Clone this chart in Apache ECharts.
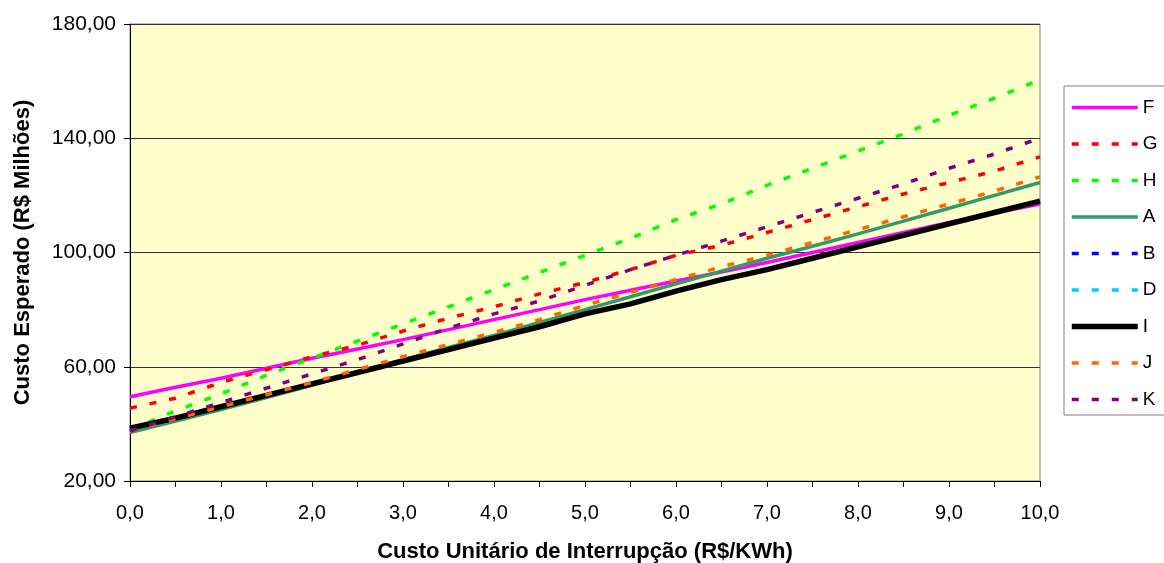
<!DOCTYPE html>
<html>
<head>
<meta charset="utf-8">
<script src="https://cdn.jsdelivr.net/npm/echarts@6/dist/echarts.min.js"></script>
<style>
html,body{margin:0;padding:0;background:#fff;}
#chart{width:1164px;height:563px;}
</style>
</head>
<body>
<div id="chart"></div>
<script>
// Categories: Custo Unitário de Interrupção (R$/KWh)
const categories = ['0,0','0,5','1,0','1,5','2,0','2,5','3,0','3,5','4,0','4,5','5,0','5,5','6,0','6,5','7,0','7,5','8,0','8,5','9,0','9,5','10,0'];

// Series values (R$ Milhões)
const F = [49.5, 52.8, 56.0, 59.5, 63.0, 66.2, 69.5, 73.0, 76.5, 80.0, 83.5, 86.8, 90.0, 93.2, 96.5, 100.0, 103.5, 107.0, 110.5, 113.8, 117.0];
const G = [45.5, 49.0, 54.5, 59.0, 63.5, 67.5, 72.5, 77.0, 81.0, 85.5, 89.5, 94.0, 99.0, 102.5, 107.0, 111.5, 116.0, 120.5, 124.5, 128.5, 133.5];
const H = [38.0, 44.5, 50.5, 57.0, 63.0, 69.0, 75.0, 81.0, 87.0, 93.0, 99.0, 105.0, 111.5, 117.0, 123.5, 129.5, 135.5, 141.5, 148.0, 154.0, 160.5];
const A = [37.0, 41.0, 45.0, 49.2, 53.5, 58.0, 62.5, 66.8, 71.0, 75.5, 80.0, 84.5, 89.0, 93.5, 98.0, 102.2, 106.5, 111.0, 115.5, 120.0, 124.5];
const B = [38.5, 42.0, 46.0, 50.0, 54.0, 58.0, 62.0, 66.0, 70.0, 74.0, 78.5, 82.0, 86.5, 90.5, 94.0, 98.0, 102.0, 106.0, 110.0, 114.0, 118.0];
const D = [38.5, 42.0, 46.0, 50.0, 54.0, 58.0, 62.0, 66.0, 70.0, 74.0, 78.5, 82.0, 86.5, 90.5, 94.0, 98.0, 102.0, 106.0, 110.0, 114.0, 118.0];
const I = [38.5, 42.0, 46.0, 50.0, 54.0, 58.0, 62.0, 66.0, 70.0, 74.0, 78.5, 82.0, 86.5, 90.5, 94.0, 98.0, 102.0, 106.0, 110.0, 114.0, 118.0];
const J = [37.5, 41.8, 46.0, 50.2, 54.5, 59.0, 63.5, 67.8, 72.0, 76.5, 81.5, 86.0, 90.5, 95.0, 99.0, 103.5, 108.0, 112.5, 117.0, 121.5, 126.5];
const K = [37.5, 42.5, 47.5, 52.5, 57.5, 62.5, 68.0, 73.5, 78.5, 83.0, 88.5, 94.0, 99.0, 104.0, 109.0, 114.0, 119.0, 124.0, 129.5, 134.5, 140.0];

// Y tick values
const yMin = 20, yMax = 180, yStep = 40;

const DASH = [7,13];
const seriesDefs = [
  {name:'F', data:F, color:'#FF00FF', width:3.5, type:'solid'},
  {name:'G', data:G, color:'#FF0000', width:3.5, type:DASH},
  {name:'H', data:H, color:'#00FF00', width:3.5, type:DASH},
  {name:'A', data:A, color:'#339966', width:3.5, type:'solid'},
  {name:'B', data:B, color:'#0000FF', width:3.5, type:DASH},
  {name:'D', data:D, color:'#00CCFF', width:3.5, type:DASH},
  {name:'I', data:I, color:'#000000', width:5.5, type:'solid'},
  {name:'J', data:J, color:'#FF6600', width:3.5, type:DASH},
  {name:'K', data:K, color:'#800080', width:3.5, type:DASH}
];

const font = "'Liberation Sans', Arial, sans-serif";

const chart = echarts.init(document.getElementById('chart'), null, {renderer:'canvas'});
chart.setOption({
  animation:false,
  backgroundColor:'#ffffff',
  grid:{left:130, right:124, top:24, bottom:82, outerBoundsMode:'none', containLabel:false,
    show:true, backgroundColor:'#FFFFCC', borderColor:'#808080', borderWidth:1},
  legend:{
    orient:'vertical', left:1064, top:86,
    padding:[12,8,6,5],
    itemWidth:66, itemHeight:14, itemGap:17.5,
    backgroundColor:'#ffffff', borderColor:'#808080', borderWidth:1, borderRadius:0,
    textStyle:{fontFamily:font, fontSize:19, color:'#000'},
    itemStyle:{opacity:0},
    lineStyle:{width:'inherit'},
    data: seriesDefs.map(s=>s.name)
  },
  xAxis:{
    type:'category', data:categories, boundaryGap:false,
    name:'Custo Unitário de Interrupção (R$/KWh)', nameLocation:'middle', nameGap:60,
    nameTextStyle:{fontFamily:font, fontSize:22, fontWeight:'bold', color:'#000'},
    axisLine:{lineStyle:{color:'#000', width:1}},
    axisTick:{show:true, interval:0, length:6, inside:false, lineStyle:{color:'#000'}},
    axisLabel:{interval:1, margin:22, fontFamily:font, fontSize:20, color:'#000'},
    splitLine:{show:false}
  },
  yAxis:{
    type:'value', min:yMin, max:yMax, interval:yStep,
    name:'Custo Esperado (R$ Milhões)', nameLocation:'middle', nameGap:96,
    nameTextStyle:{fontFamily:font, fontSize:22, fontWeight:'bold', color:'#000'},
    axisLine:{show:true, lineStyle:{color:'#000', width:1}},
    axisTick:{show:true, length:6, lineStyle:{color:'#000'}},
    axisLabel:{margin:14, fontFamily:font, fontSize:21, color:'#000',
      formatter:v=>v.toFixed(2).replace('.',',')},
    splitLine:{show:true, lineStyle:{color:'#333333', width:1}}
  },
  series: seriesDefs.map(s=>({
    name:s.name, type:'line', data:s.data, showSymbol:false, symbol:'none',
    color:s.color,
    lineStyle:{color:s.color, width:s.width, type:s.type},
    itemStyle:{color:s.color}
  }))
});
</script>
</body>
</html>
